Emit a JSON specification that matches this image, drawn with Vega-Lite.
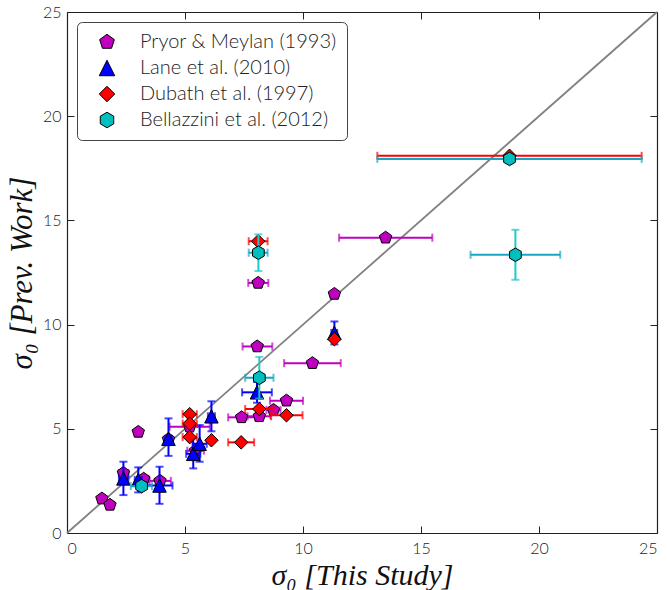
{
  "$schema": "https://vega.github.io/schema/vega-lite/v6.json",
  "width": 590,
  "height": 521,
  "autosize": {"type": "none"},
  "padding": {"left": 67, "top": 12, "right": 10, "bottom": 57},
  "background": "white",
  "config": {
    "view": {"stroke": null},
    "axis": {
      "grid": false,
      "domainColor": "#222222",
      "domainWidth": 1.2,
      "tickColor": "#222222",
      "tickSize": -7,
      "tickWidth": 1,
      "labelFont": "Lato",
      "labelFontWeight": 300,
      "labelFontSize": 16,
      "labelColor": "#222222",
      "titleFont": "Liberation Serif",
      "titleFontStyle": "italic",
      "titleFontWeight": "normal",
      "titleFontSize": 30,
      "titleColor": "#111111"
    }
  },
  "datasets": {
    "diag": [{"v": 0}, {"v": 25}],
    "pts": [
      {"series": "Pryor & Meylan (1993)", "x": 1.48, "y": 1.65},
      {"series": "Pryor & Meylan (1993)", "x": 1.82, "y": 1.35},
      {"series": "Pryor & Meylan (1993)", "x": 3.02, "y": 4.85},
      {"series": "Pryor & Meylan (1993)", "x": 2.39, "y": 2.88, "xlo": 2.2, "xhi": 2.6},
      {"series": "Pryor & Meylan (1993)", "x": 3.25, "y": 2.6, "xlo": 3.05, "xhi": 3.45},
      {"series": "Pryor & Meylan (1993)", "x": 3.94, "y": 2.5, "xlo": 3.5, "xhi": 4.4},
      {"series": "Pryor & Meylan (1993)", "x": 4.3, "y": 4.5},
      {"series": "Pryor & Meylan (1993)", "x": 5.2, "y": 5.1, "xlo": 4.35, "xhi": 6.05},
      {"series": "Pryor & Meylan (1993)", "x": 5.45, "y": 3.95, "xlo": 5.1, "xhi": 5.8},
      {"series": "Pryor & Meylan (1993)", "x": 7.4, "y": 5.55, "xlo": 6.83, "xhi": 7.97},
      {"series": "Pryor & Meylan (1993)", "x": 8.15, "y": 5.6, "xlo": 7.65, "xhi": 8.65},
      {"series": "Pryor & Meylan (1993)", "x": 8.75, "y": 5.9, "xlo": 8.45, "xhi": 9.05},
      {"series": "Pryor & Meylan (1993)", "x": 9.3, "y": 6.35, "xlo": 8.6, "xhi": 10.0},
      {"series": "Pryor & Meylan (1993)", "x": 10.4, "y": 8.15, "xlo": 9.2, "xhi": 11.6},
      {"series": "Pryor & Meylan (1993)", "x": 8.1, "y": 12.0, "xlo": 7.68, "xhi": 8.53},
      {"series": "Pryor & Meylan (1993)", "x": 11.33, "y": 11.47},
      {"series": "Pryor & Meylan (1993)", "x": 8.06, "y": 8.95, "xlo": 7.44, "xhi": 8.7},
      {"series": "Pryor & Meylan (1993)", "x": 13.5, "y": 14.17, "xlo": 11.53, "xhi": 15.48},
      {"series": "Lane et al. (2010)", "x": 2.39, "y": 2.62, "xlo": 2.2, "xhi": 2.6, "ylo": 1.82, "yhi": 3.42},
      {"series": "Lane et al. (2010)", "x": 3.02, "y": 2.55, "xlo": 2.87, "xhi": 3.17, "ylo": 1.95, "yhi": 3.15},
      {"series": "Lane et al. (2010)", "x": 3.92, "y": 2.28, "xlo": 3.37, "xhi": 4.47, "ylo": 1.4, "yhi": 3.18},
      {"series": "Lane et al. (2010)", "x": 4.3, "y": 4.52, "xlo": 4.15, "xhi": 4.45, "ylo": 3.7, "yhi": 5.5},
      {"series": "Lane et al. (2010)", "x": 5.35, "y": 3.8, "xlo": 5.05, "xhi": 5.65, "ylo": 3.1, "yhi": 4.54},
      {"series": "Lane et al. (2010)", "x": 5.62, "y": 4.28, "xlo": 5.32, "xhi": 5.92, "ylo": 3.42, "yhi": 5.18},
      {"series": "Lane et al. (2010)", "x": 6.12, "y": 5.6, "xlo": 5.97, "xhi": 6.27, "ylo": 4.88, "yhi": 6.32},
      {"series": "Lane et al. (2010)", "x": 8.05, "y": 6.75, "xlo": 7.42, "xhi": 8.68, "ylo": 6.25, "yhi": 7.25},
      {"series": "Lane et al. (2010)", "x": 11.33, "y": 9.6, "xlo": 11.2, "xhi": 11.45, "ylo": 9.05, "yhi": 10.15},
      {"series": "Dubath et al. (1997)", "x": 5.2, "y": 5.7, "xlo": 4.9, "xhi": 5.5},
      {"series": "Dubath et al. (1997)", "x": 5.2, "y": 5.25, "xlo": 4.9, "xhi": 5.5},
      {"series": "Dubath et al. (1997)", "x": 5.2, "y": 4.6, "xlo": 4.9, "xhi": 5.5},
      {"series": "Dubath et al. (1997)", "x": 6.12, "y": 4.45},
      {"series": "Dubath et al. (1997)", "x": 7.38, "y": 4.35, "xlo": 6.83, "xhi": 7.93},
      {"series": "Dubath et al. (1997)", "x": 8.15, "y": 5.95, "xlo": 7.55, "xhi": 8.75},
      {"series": "Dubath et al. (1997)", "x": 9.3, "y": 5.65, "xlo": 8.62, "xhi": 9.98},
      {"series": "Dubath et al. (1997)", "x": 8.1, "y": 14.0, "xlo": 7.7, "xhi": 8.5},
      {"series": "Dubath et al. (1997)", "x": 11.33, "y": 9.3},
      {"series": "Dubath et al. (1997)", "x": 18.75, "y": 18.1, "xlo": 13.15, "xhi": 24.35},
      {"series": "Bellazzini et al. (2012)", "x": 3.16, "y": 2.25, "xlo": 2.7, "xhi": 3.6},
      {"series": "Bellazzini et al. (2012)", "x": 8.15, "y": 7.45, "xlo": 7.55, "xhi": 8.75, "ylo": 6.45, "yhi": 8.45},
      {"series": "Bellazzini et al. (2012)", "x": 8.11, "y": 13.45, "xlo": 7.7, "xhi": 8.5, "ylo": 12.57, "yhi": 14.33},
      {"series": "Bellazzini et al. (2012)", "x": 18.75, "y": 17.95, "xlo": 13.15, "xhi": 24.35},
      {"series": "Bellazzini et al. (2012)", "x": 19.0, "y": 13.35, "xlo": 17.1, "xhi": 20.9, "ylo": 12.15, "yhi": 14.55}
    ]
  },
  "layer": [
    {
      "data": {"name": "diag"},
      "mark": {"type": "line", "color": "#808080", "strokeWidth": 1.8},
      "encoding": {
        "x": {"field": "v", "type": "quantitative", "scale": {"domain": [0, 25], "nice": false, "zero": false},
              "axis": {"orient": "bottom", "values": [0, 5, 10, 15, 20, 25], "title": "σ₀ [This Study]", "labelPadding": 14, "titlePadding": 4}},
        "y": {"field": "v", "type": "quantitative", "scale": {"domain": [0, 25], "nice": false, "zero": false},
              "axis": {"orient": "left", "values": [0, 5, 10, 15, 20, 25], "title": "σ₀ [Prev. Work]", "labelPadding": 13, "titlePadding": 4, "titleFontSize": 31}}
      }
    },
    {
      "data": {"name": "diag"},
      "mark": {"type": "line", "strokeOpacity": 0},
      "encoding": {
        "x": {"field": "v", "type": "quantitative", "axis": {"orient": "top", "values": [0, 5, 10, 15, 20, 25], "labels": false, "title": null}},
        "y": {"field": "v", "type": "quantitative", "axis": {"orient": "right", "values": [0, 5, 10, 15, 20, 25], "labels": false, "title": null}}
      }
    },
    {
      "data": {"name": "pts"},
      "transform": [{"filter": "datum.series === 'Pryor & Meylan (1993)' && isValid(datum.xlo)"}],
      "mark": {"type": "errorbar", "ticks": true, "size": 8, "thickness": 2, "color": "#c000c0"},
      "encoding": {
        "x": {"field": "xlo", "type": "quantitative", "axis": null},
        "x2": {"field": "xhi"},
        "y": {"field": "y", "type": "quantitative", "axis": null}
      }
    },
    {
      "data": {"name": "pts"},
      "transform": [{"filter": "datum.series === 'Pryor & Meylan (1993)'"}],
      "mark": {"type": "point", "filled": true, "stroke": "black", "strokeWidth": 1, "opacity": 1},
      "encoding": {
        "x": {"field": "x", "type": "quantitative", "axis": null},
        "y": {"field": "y", "type": "quantitative", "axis": null},
        "fill": {"field": "series", "type": "nominal",
                 "scale": {"domain": ["Pryor & Meylan (1993)", "Lane et al. (2010)", "Dubath et al. (1997)", "Bellazzini et al. (2012)"], "range": ["#bf00bf", "#0000ff", "#ff0000", "#00bfbf"]},
                 "legend": {"orient": "top-left", "offset": 10, "title": null, "strokeColor": "#444444", "cornerRadius": 5, "fillColor": "white", "padding": 10,
                            "labelFont": "Lato", "labelFontWeight": 300, "labelFontSize": 20, "labelColor": "#222222", "labelLimit": 400, "rowPadding": 6,
                            "symbolOffset": 10, "labelOffset": 23, "symbolSize": 240, "symbolStrokeWidth": 1}},
        "shape": {"field": "series", "type": "nominal",
                  "scale": {"domain": ["Pryor & Meylan (1993)", "Lane et al. (2010)", "Dubath et al. (1997)", "Bellazzini et al. (2012)"], "range": ["M0,-1L0.951,-0.309L0.588,0.809L-0.588,0.809L-0.951,-0.309Z", "M0,-1L1,1L-1,1Z", "diamond", "M0,-1L0.866,-0.5L0.866,0.5L0,1L-0.866,0.5L-0.866,-0.5Z"]},
                  "legend": {"orient": "top-left", "offset": 10, "title": null, "strokeColor": "#444444", "cornerRadius": 5, "fillColor": "white", "padding": 10,
                            "labelFont": "Lato", "labelFontWeight": 300, "labelFontSize": 20, "labelColor": "#222222", "labelLimit": 400, "rowPadding": 6,
                            "symbolOffset": 10, "labelOffset": 23, "symbolSize": 240, "symbolStrokeWidth": 1}},
        "size": {"field": "series", "type": "nominal",
                 "scale": {"type": "ordinal", "domain": ["Pryor & Meylan (1993)", "Lane et al. (2010)", "Dubath et al. (1997)", "Bellazzini et al. (2012)"], "range": [170, 144, 225, 190]},
                 "legend": null}
      }
    },
    {
      "data": {"name": "pts"},
      "transform": [{"filter": "datum.series === 'Lane et al. (2010)' && isValid(datum.xlo)"}],
      "mark": {"type": "errorbar", "ticks": true, "size": 8, "thickness": 2, "color": "#0000ff"},
      "encoding": {
        "x": {"field": "xlo", "type": "quantitative", "axis": null},
        "x2": {"field": "xhi"},
        "y": {"field": "y", "type": "quantitative", "axis": null}
      }
    },
    {
      "data": {"name": "pts"},
      "transform": [{"filter": "datum.series === 'Lane et al. (2010)' && isValid(datum.ylo)"}],
      "mark": {"type": "errorbar", "ticks": true, "size": 8, "thickness": 2, "color": "#0000ff"},
      "encoding": {
        "y": {"field": "ylo", "type": "quantitative", "axis": null},
        "y2": {"field": "yhi"},
        "x": {"field": "x", "type": "quantitative", "axis": null}
      }
    },
    {
      "data": {"name": "pts"},
      "transform": [{"filter": "datum.series === 'Lane et al. (2010)'"}],
      "mark": {"type": "point", "filled": true, "stroke": "black", "strokeWidth": 1, "opacity": 1},
      "encoding": {
        "x": {"field": "x", "type": "quantitative", "axis": null},
        "y": {"field": "y", "type": "quantitative", "axis": null},
        "fill": {"field": "series", "type": "nominal", "legend": null},
        "shape": {"field": "series", "type": "nominal", "legend": null},
        "size": {"field": "series", "type": "nominal", "legend": null}
      }
    },
    {
      "data": {"name": "pts"},
      "transform": [{"filter": "datum.series === 'Dubath et al. (1997)' && isValid(datum.xlo)"}],
      "mark": {"type": "errorbar", "ticks": true, "size": 8, "thickness": 2, "color": "#ff0000"},
      "encoding": {
        "x": {"field": "xlo", "type": "quantitative", "axis": null},
        "x2": {"field": "xhi"},
        "y": {"field": "y", "type": "quantitative", "axis": null}
      }
    },
    {
      "data": {"name": "pts"},
      "transform": [{"filter": "datum.series === 'Dubath et al. (1997)'"}],
      "mark": {"type": "point", "filled": true, "stroke": "black", "strokeWidth": 1, "opacity": 1},
      "encoding": {
        "x": {"field": "x", "type": "quantitative", "axis": null},
        "y": {"field": "y", "type": "quantitative", "axis": null},
        "fill": {"field": "series", "type": "nominal", "legend": null},
        "shape": {"field": "series", "type": "nominal", "legend": null},
        "size": {"field": "series", "type": "nominal", "legend": null}
      }
    },
    {
      "data": {"name": "pts"},
      "transform": [{"filter": "datum.series === 'Bellazzini et al. (2012)' && isValid(datum.xlo)"}],
      "mark": {"type": "errorbar", "ticks": true, "size": 8, "thickness": 2, "color": "#19a6c2"},
      "encoding": {
        "x": {"field": "xlo", "type": "quantitative", "axis": null},
        "x2": {"field": "xhi"},
        "y": {"field": "y", "type": "quantitative", "axis": null}
      }
    },
    {
      "data": {"name": "pts"},
      "transform": [{"filter": "datum.series === 'Bellazzini et al. (2012)' && isValid(datum.ylo)"}],
      "mark": {"type": "errorbar", "ticks": true, "size": 8, "thickness": 2, "color": "#22c8c8"},
      "encoding": {
        "y": {"field": "ylo", "type": "quantitative", "axis": null},
        "y2": {"field": "yhi"},
        "x": {"field": "x", "type": "quantitative", "axis": null}
      }
    },
    {
      "data": {"name": "pts"},
      "transform": [{"filter": "datum.series === 'Bellazzini et al. (2012)'"}],
      "mark": {"type": "point", "filled": true, "stroke": "black", "strokeWidth": 1, "opacity": 1},
      "encoding": {
        "x": {"field": "x", "type": "quantitative", "axis": null},
        "y": {"field": "y", "type": "quantitative", "axis": null},
        "fill": {"field": "series", "type": "nominal", "legend": null},
        "shape": {"field": "series", "type": "nominal", "legend": null},
        "size": {"field": "series", "type": "nominal", "legend": null}
      }
    }
  ]
}
